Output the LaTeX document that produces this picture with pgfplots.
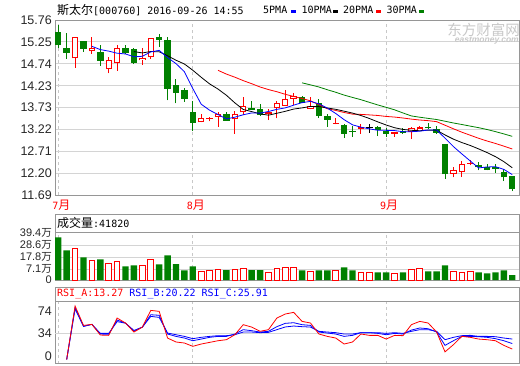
\documentclass[border=0pt]{standalone}
\usepackage{pgfplots}
\pgfplotsset{compat=1.18}
\usepackage{pgfplotstable}
\usepackage{fontspec}
\setmainfont{Liberation Sans}
\newfontfamily\cjk{Noto Sans CJK SC}
\newfontfamily\mono{DejaVu Sans Mono}
\definecolor{cred}{RGB}{255,0,0}
\definecolor{cgreen}{RGB}{0,128,0}
\definecolor{cblue}{RGB}{0,0,255}
\definecolor{framec}{RGB}{150,150,150}
\definecolor{gridc}{RGB}{212,212,212}
\definecolor{dashc}{RGB}{200,200,200}
\definecolor{wmc}{RGB}{200,200,200}

% candles: index, open, high, low, close
\pgfplotstableread{
i o h l c
2 14.87 15.36 14.65 15.36
4 15.03 15.36 14.98 15.10
6 14.61 14.91 14.52 14.82
7 14.75 15.18 14.58 15.12
10 14.82 15.10 14.72 14.87
11 14.89 15.33 14.86 15.33
17 13.38 13.57 13.38 13.48
18 13.45 13.51 13.40 13.46
19 13.50 13.61 13.28 13.57
21 13.45 13.65 13.12 13.57
22 13.61 13.96 13.55 13.76
25 13.57 13.68 13.43 13.61
26 13.71 13.88 13.47 13.82
27 13.76 14.13 13.76 13.93
28 13.93 14.06 13.78 13.99
30 13.70 13.96 13.68 13.76
33 13.35 13.47 13.33 13.36
36 13.22 13.33 13.12 13.26
40 13.12 13.16 13.05 13.13
42 13.16 13.27 12.99 13.24
43 13.20 13.29 13.20 13.26
47 12.19 12.35 12.10 12.26
48 12.22 12.47 12.12 12.41
49 12.42 12.51 12.38 12.43
}\upK
\pgfplotstableread{
i o h l c
0 15.48 15.64 15.10 15.19
1 15.12 15.45 14.86 15.00
3 15.27 15.27 15.02 15.09
5 15.01 15.18 14.70 14.81
8 15.12 15.18 14.98 15.00
9 15.08 15.12 14.74 14.77
12 15.36 15.43 15.14 15.30
13 15.29 15.36 13.89 14.16
14 14.24 14.38 13.82 14.07
15 14.13 14.19 13.86 13.93
16 13.63 13.88 13.19 13.37
20 13.57 13.62 13.42 13.42
23 13.71 13.88 13.67 13.67
24 13.68 13.81 13.53 13.55
29 13.96 13.99 13.82 13.84
31 13.82 13.92 13.48 13.53
32 13.53 13.58 13.28 13.44
34 13.31 13.34 13.01 13.12
35 13.17 13.29 13.05 13.16
38 13.28 13.29 13.06 13.20
39 13.19 13.24 13.05 13.11
41 13.18 13.24 13.12 13.13
44 13.26 13.37 13.22 13.25
45 13.23 13.29 13.12 13.14
46 12.88 12.88 12.07 12.17
50 12.39 12.45 12.26 12.33
51 12.33 12.41 12.26 12.28
52 12.33 12.40 12.21 12.29
53 12.23 12.29 12.01 12.10
54 12.13 12.13 11.78 11.82
}\dnK
\pgfplotstableread{
i o h l c
37 13.24 13.34 13.14 13.24
}\flK

\pgfplotstableread{
i v
4 15.148
5 15.072
6 15.036
7 14.988
8 14.970
9 14.904
10 14.916
11 15.018
12 15.054
13 14.886
14 14.746
15 14.558
16 14.166
17 13.802
18 13.662
19 13.562
20 13.460
21 13.500
22 13.556
23 13.598
24 13.594
25 13.632
26 13.682
27 13.716
28 13.780
29 13.838
30 13.868
31 13.810
32 13.712
33 13.586
34 13.442
35 13.322
36 13.268
37 13.228
38 13.196
39 13.194
40 13.188
41 13.162
42 13.162
43 13.174
44 13.202
45 13.204
46 13.012
47 12.816
48 12.646
49 12.482
50 12.320
51 12.342
52 12.348
53 12.286
54 12.164
}\maFive
\pgfplotstableread{
i v
9 15.026
10 14.994
11 15.027
12 15.021
13 14.928
14 14.825
15 14.737
16 14.592
17 14.428
18 14.274
19 14.154
20 14.009
21 13.833
22 13.679
23 13.630
24 13.578
25 13.546
26 13.591
27 13.636
28 13.689
29 13.716
30 13.750
31 13.746
32 13.714
33 13.683
34 13.640
35 13.595
36 13.539
37 13.470
38 13.391
39 13.318
40 13.255
41 13.215
42 13.195
43 13.185
44 13.198
45 13.196
46 13.087
47 12.989
48 12.910
49 12.842
50 12.762
51 12.677
52 12.582
53 12.466
54 12.323
}\maTen
\pgfplotstableread{
i v
19 14.590
20 14.502
21 14.430
22 14.350
23 14.279
24 14.202
25 14.142
26 14.092
27 14.032
28 13.982
29 13.935
30 13.880
31 13.790
32 13.697
33 13.657
34 13.609
35 13.571
36 13.565
37 13.553
38 13.540
39 13.517
40 13.503
41 13.481
42 13.455
43 13.434
44 13.419
45 13.396
46 13.313
47 13.230
48 13.151
49 13.080
50 13.009
51 12.946
52 12.889
53 12.826
54 12.761
}\maTwenty
\pgfplotstableread{
i v
29 14.299
30 14.251
31 14.202
32 14.138
33 14.080
34 14.014
35 13.959
36 13.907
37 13.845
38 13.785
39 13.729
40 13.671
41 13.598
42 13.529
43 13.499
44 13.472
45 13.446
46 13.406
47 13.365
48 13.330
49 13.292
50 13.256
51 13.213
52 13.164
53 13.111
54 13.054
}\maThirty

% volume (10^4 shares)
\pgfplotstableread{
i v
2 26.4
4 16.6
6 14.1
7 15.5
10 12.1
11 17.2
17 7.3
18 8.2
19 8.7
21 8.7
22 9.6
25 6.5
26 9.6
27 10.4
28 10.4
30 7.3
33 8.2
36 6.5
37 6.5
40 5.6
42 8.7
43 9.6
47 7.3
48 6.5
49 7.3
}\volUp
\pgfplotstableread{
i v
0 36.0
1 25.0
3 19.1
5 17.4
8 11.5
9 12.4
12 13.2
13 20.8
14 13.5
15 8.2
16 11.5
20 8.4
23 8.4
24 8.4
29 8.2
31 8.2
32 8.2
34 10.7
35 8.2
38 6.5
39 6.5
41 6.5
44 7.3
45 7.3
46 12.4
50 6.5
51 5.6
52 6.5
53 8.2
54 4.18
}\volDn

% RSI
\pgfplotstableread{
i A B C
1 0 0 0
2 67.7 66 64
3 43.2 42 42
4 44.5 44.5 44.5
5 31 32.3 33.1
6 30.6 31.9 33.1
7 52.5 50 48
8 46.2 46 46
9 34.8 36 36.8
10 41 41 41
11 62.2 56.7 54.6
12 61 56 53.4
13 27.2 32.3 33.5
14 22.2 29.3 31.4
15 20.9 27.2 29.3
16 16.7 23.8 26.4
17 19.6 25.9 28.1
18 21.7 28.1 29.3
19 23.8 29.3 30.2
20 25.1 29.3 30.2
21 31.4 32.3 31.4
22 44.1 37.8 34.8
23 41.1 36.5 34.8
24 35.7 34.8 34
25 37.8 35.7 34.4
26 52.5 41.6 37.8
27 57.6 45.8 41.2
28 59.7 46.6 42.4
29 48.3 44.1 41.6
30 46.2 43.2 41.1
31 32.3 34.8 35.7
32 29.3 33.5 34.8
33 27.2 32.3 34
34 19.6 29.3 32.3
35 22.2 30.6 32.3
36 32.3 34 34
37 30.6 34 34
38 30.6 33.1 34
39 25.9 31.4 33.1
40 30.6 33.1 34
41 30.2 32.3 33.1
42 44.1 37.3 35.7
43 48.3 39.9 37.8
44 46.2 39 37.8
45 34.8 34.8 35.7
46 9.7 17.9 25.1
47 18.8 23.8 28.1
48 29.3 29.3 30.2
49 28.1 29.3 30.6
50 25.9 28.9 29.3
51 25.1 28.1 29.3
52 23.8 26.4 28.9
53 17.9 23.8 27.2
54 13.27 20.22 25.91
}\rsi

\pgfplotsset{
  panel/.style={
    scale only axis, width=464pt,
    xmin=-0.39, xmax=54.8,
    axis line style={draw=framec, line width=1pt},
    xtick={0,16,39}, xticklabels={},
    xmajorgrids,
    x grid style={draw=dashc, line width=0.8pt, dash pattern=on 3pt off 3pt},
    y grid style={draw=gridc, line width=1pt},
    major tick length=0pt, minor tick length=0pt,
    yticklabel style={font=\fontsize{12.5}{13}\selectfont, text=black!85, inner sep=0pt, xshift=-3pt},
  },
  wick/.style={draw=none, mark=none, forget plot,
    error bars/.cd, y dir=plus, y explicit, error mark=none,
    error bar style={draw=#1, line width=1pt}},
  body/.style={draw=none, mark=none, forget plot,
    error bars/.cd, y dir=plus, y explicit, error mark=none,
    error bar style={draw=#1, line width=6.4pt, line cap=butt}},
  inner/.style={draw=none, mark=none, forget plot,
    error bars/.cd, y dir=plus, y explicit, error mark=none,
    error bar style={draw=white, line width=4.4pt, line cap=butt}},
}

\begin{document}
\begin{tikzpicture}
\useasboundingbox (0pt,0pt) rectangle (520pt,-365pt);

% ---------------- price panel ----------------
\begin{axis}[panel, at={(55pt,-195pt)}, anchor=south west, height=175pt,
  ymin=11.69, ymax=15.76,
  ytick={11.69,12.20,12.71,13.22,13.73,14.23,14.74,15.25,15.76},
  yticklabels={11.69,12.20,12.71,13.22,13.73,14.23,14.74,15.25,15.76},
  ymajorgrids,
  xticklabels={{\mono\fontsize{10}{12}\selectfont 7\cjk\fontsize{12}{12}\selectfont 月},
               {\mono\fontsize{10}{12}\selectfont 8\cjk\fontsize{12}{12}\selectfont 月},
               {\mono\fontsize{10}{12}\selectfont 9\cjk\fontsize{12}{12}\selectfont 月}},
  xticklabel style={text=cred, inner sep=0pt, yshift=-5pt, xshift=3pt},
]
% wicks
\addplot[wick=cgreen] table[x=i, y=l, y error expr=\thisrow{h}-\thisrow{l}] {\dnK};
\addplot[wick=cred] table[x=i, y=l, y error expr=\thisrow{h}-\thisrow{l}] {\upK};
\addplot[wick=black] table[x=i, y=l, y error expr=\thisrow{h}-\thisrow{l}] {\flK};
% bodies
\addplot[body=cgreen] table[x=i, y=c, y error expr={max(\thisrow{o}-\thisrow{c},0.024)}] {\dnK};
\addplot[body=cred] table[x=i, y=o, y error expr={max(\thisrow{c}-\thisrow{o},0.024)}] {\upK};
\addplot[inner] table[x=i, y expr=\thisrow{o}+0.0233, y error expr={max(\thisrow{c}-\thisrow{o}-0.0466,0)}] {\upK};
\addplot[body=black] table[x=i, y=o, y error expr=0.024] {\flK};
% moving averages
\addplot[cgreen, line width=0.8pt, mark=none] table[x=i, y=v] {\maThirty};
\addplot[cred, line width=0.8pt, mark=none] table[x=i, y=v] {\maTwenty};
\addplot[black, line width=0.8pt, mark=none] table[x=i, y=v] {\maTen};
\addplot[cblue, line width=0.8pt, mark=none] table[x=i, y=v] {\maFive};
\end{axis}

% ---------------- volume panel ----------------
\draw[framec, line width=1pt] (55pt,-214.3pt) rectangle (519pt,-232pt);
\begin{axis}[panel, at={(55pt,-280pt)}, anchor=south west, height=48pt,
  ymin=0, ymax=40.5,
  ytick={0,9.03,19.16,29.28},
  yticklabels={0,7.1{\cjk\fontsize{10.5}{11}\selectfont 万},17.8{\cjk\fontsize{10.5}{11}\selectfont 万},28.6{\cjk\fontsize{10.5}{11}\selectfont 万}},
  extra y ticks={39.41},
  extra y tick labels={39.4{\cjk\fontsize{10.5}{11}\selectfont 万}},
  extra y tick style={grid=none},
  yticklabel style={font=\fontsize{11}{11}\selectfont},
  ymajorgrids,
  ybar,
]
\addplot[ybar, bar shift=0pt, bar width=6.4pt, fill=cgreen, draw=none] table[x=i, y=v] {\volDn};
\addplot[ybar, bar shift=0pt, bar width=5.6pt, fill=white, draw=cred, line width=1pt] table[x=i, y=v] {\volUp};
\end{axis}

% ---------------- RSI panel ----------------
\draw[framec, line width=1pt] (55pt,-287.3pt) rectangle (519pt,-301.3pt);
\begin{axis}[panel, at={(55pt,-363.7pt)}, anchor=south west, height=62.4pt,
  ymin=-5.3, ymax=73.7,
  ytick={4.8,61.8}, yticklabels={0,74},
  extra y ticks={33.2}, extra y tick labels={34},
  extra y tick style={grid=major},
]
\addplot[cblue, line width=0.8pt, mark=none] table[x=i, y=C] {\rsi};
\addplot[cblue, line width=0.8pt, mark=none] table[x=i, y=B] {\rsi};
\addplot[cred, line width=0.8pt, mark=none] table[x=i, y=A] {\rsi};
\end{axis}

% ---------------- texts ----------------
\node[anchor=west, inner sep=0pt] at (57pt,-10pt)
  {\cjk\fontsize{12}{12}\selectfont 斯太尔\mono\fontsize{10}{12}\selectfont [000760] 2016-09-26 14:55};
\node[anchor=west, inner sep=0pt] at (263pt,-10pt) {\mono\fontsize{10}{12}\selectfont 5PMA};
\node[anchor=west, inner sep=0pt] at (291pt,-11pt) {\textcolor{cblue}{\rule{5pt}{3pt}}};
\node[anchor=west, inner sep=0pt] at (301.5pt,-10pt) {\mono\fontsize{10}{12}\selectfont 10PMA};
\node[anchor=west, inner sep=0pt] at (333pt,-11pt) {\textcolor{black}{\rule{5pt}{3pt}}};
\node[anchor=west, inner sep=0pt] at (343pt,-10pt) {\mono\fontsize{10}{12}\selectfont 20PMA};
\node[anchor=west, inner sep=0pt] at (376pt,-11pt) {\textcolor{cred}{\rule{5pt}{3pt}}};
\node[anchor=west, inner sep=0pt] at (386.5pt,-10pt) {\mono\fontsize{10}{12}\selectfont 30PMA};
\node[anchor=west, inner sep=0pt] at (419pt,-11pt) {\textcolor{cgreen}{\rule{5pt}{3pt}}};

\node[anchor=east, inner sep=0pt, text=wmc] at (520pt,-29.5pt) {\cjk\fontsize{14.5}{15}\selectfont 东方财富网};
\node[anchor=east, inner sep=0pt, text=wmc] at (519pt,-41pt) {\fontsize{8.5}{9}\selectfont\bfseries\itshape eastmoney.com};

\node[anchor=west, inner sep=0pt] at (57pt,-222.5pt)
  {\cjk\fontsize{12}{12}\selectfont 成交量\mono\fontsize{10}{12}\selectfont :41820};
\node[anchor=west, inner sep=0pt] at (57pt,-294pt)
  {\mono\fontsize{10}{12}\selectfont\textcolor{cred}{RSI\_A:13.27} \textcolor{cblue}{RSI\_B:20.22} \textcolor{cblue}{RSI\_C:25.91}};
\end{tikzpicture}
\end{document}
